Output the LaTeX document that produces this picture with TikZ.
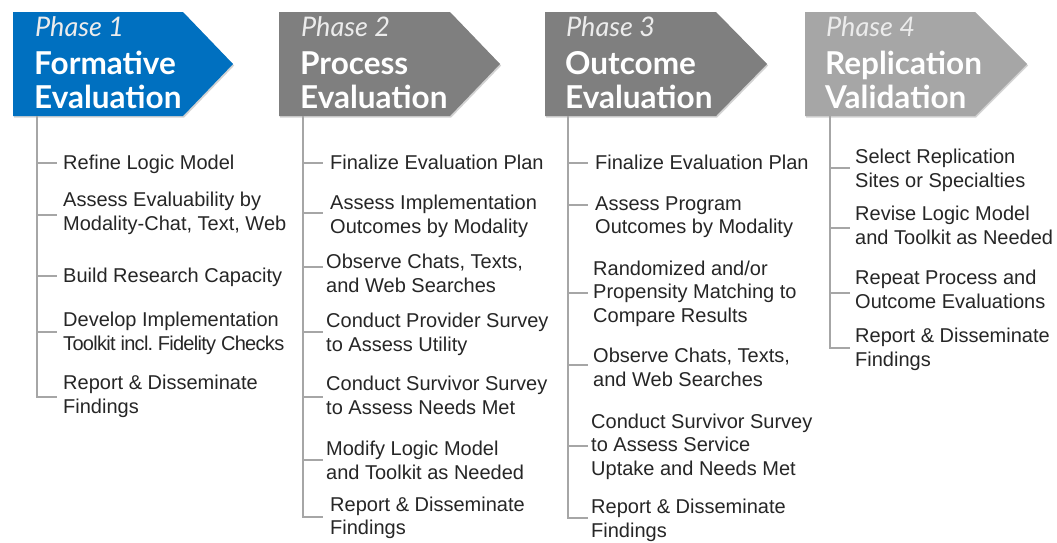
\documentclass[tikz,border=0pt]{standalone}
\usepackage{fontspec}
\setmainfont{Liberation Sans}
\newfontfamily\latofont{Lato}
\newfontfamily\tightfont[LetterSpace=-3.5]{Liberation Sans}
\usetikzlibrary{shadows,calc}
\definecolor{pblue}{HTML}{0070C0}
\definecolor{pgray}{HTML}{7F7F7F}
\definecolor{plight}{HTML}{A6A6A6}
\definecolor{spinec}{HTML}{A6A6A6}
\definecolor{itemc}{HTML}{262626}
\definecolor{labc}{HTML}{ECECEC}
\tikzset{
  phasebox/.style={draw=none, drop shadow={shadow xshift=1.2pt, shadow yshift=-1.5pt, opacity=0.35}},
  phaselab/.style={anchor=base west, inner sep=0pt, text=labc, font=\latofont\itshape\fontsize{27}{30}\selectfont},
  phasetitle/.style={anchor=west, inner sep=0pt, text=white, align=left, font=\latofont\bfseries\fontsize{31.5}{33}\selectfont},
  item/.style={anchor=west, inner sep=0pt, text=itemc, align=left, font=\fontsize{20}{23.5}\selectfont},
  spine/.style={draw=spinec, line width=1.4pt},
  tickline/.style={draw=spinec, line width=1.4pt}
}
\newcommand\phasebox[4]{\fill[#4, phasebox] (#1,12) -- (#2,12) -- (#3,64) -- (#2,116) -- (#1,116) -- cycle;}
\newcommand\tick[3]{\draw[tickline] ($(#1 |- #2.west)+(0,#3)$) -- ++(20,0);}
\newcommand\lastl[3]{\draw[spine] (#1) -- ($(#1 |- #2.west)+(0,#3)$) -- ++(20,0);}
\begin{document}
\begin{tikzpicture}[x=1pt,y=-1pt]
\useasboundingbox[fill=white] (0,0) rectangle (1057,542);

% phase boxes
\phasebox{13}{183}{233}{pblue}
\phasebox{279}{450}{500}{pgray}
\phasebox{545}{716}{767}{pgray}
\phasebox{805}{975}{1027}{plight}

\node[phaselab] (l1) at (35,36) {Phase 1};
\node[phaselab] (l2) at (301,36) {Phase 2};
\node[phaselab] (l3) at (566,36) {Phase 3};
\node[phaselab] (l4) at (826,36) {Phase 4};

\node[phasetitle] (t1) at (34,84.9) {\strut Formative\\\strut Evaluation};
\node[phasetitle] (t2) at (300,84.9) {\strut Process\\\strut Evaluation};
\node[phasetitle] (t3) at (565,84.9) {\strut Outcome\\\strut Evaluation};
\node[phasetitle] (t4) at (825,84.9) {\strut Replication\\\strut Validation};

\coordinate (v1) at (37,116);
\coordinate (v2) at (303,116);
\coordinate (v3) at (568,116);
\coordinate (v4) at (830,116);

% Phase 1 items
\node[item] (a1) at (63,165) {\strut Refine Logic Model};
\node[item] (a2) at (63,214) {\strut Assess Evaluability by\\\strut Modality-Chat, Text, Web};
\node[item] (a3) at (63,277.5) {\strut Build Research Capacity};
\node[item] (a4) at (63,334) {\strut Develop Implementation\\\strut {\tightfont Toolkit incl.\hspace{-2pt} Fidelity Checks}};
\node[item] (a5) at (63,397) {\strut Report \& Disseminate\\\strut Findings};

% Phase 2 items
\node[item] (b1) at (330,165) {\strut Finalize Evaluation Plan};
\node[item] (b2) at (330,217) {\strut Assess Implementation\\\strut Outcomes by Modality};
\node[item] (b3) at (326,276) {\strut Observe Chats, Texts,\\\strut and Web Searches};
\node[item] (b4) at (326,335) {\strut Conduct Provider Survey\\\strut to Assess Utility};
\node[item] (b5) at (326,398) {\strut Conduct Survivor Survey\\\strut to Assess Needs Met};
\node[item] (b6) at (326,463) {\strut Modify Logic Model\\\strut and Toolkit as Needed};
\node[item] (b7) at (330,518.5) {\strut Report \& Disseminate\\\strut Findings};

% Phase 3 items
\node[item] (c1) at (595,165) {\strut Finalize Evaluation Plan};
\node[item] (c2) at (595,217.5) {\strut Assess Program\\\strut Outcomes by Modality};
\node[item] (c3) at (593,294) {\strut Randomized and/or\\\strut Propensity Matching to\\\strut Compare Results};
\node[item] (c4) at (593,370) {\strut Observe Chats, Texts,\\\strut and Web Searches};
\node[item] (c5) at (591,447) {\strut Conduct Survivor Survey\\\strut to Assess Service\\\strut Uptake and Needs Met};
\node[item] (c6) at (591,521) {\strut Report \& Disseminate\\\strut Findings};

% Phase 4 items
\node[item] (d1) at (855,171) {\strut Select Replication\\\strut Sites or Specialties};
\node[item] (d2) at (855,228) {\strut Revise Logic Model\\\strut and Toolkit as Needed};
\node[item] (d3) at (855,292) {\strut Repeat Process and\\\strut Outcome Evaluations};
\node[item] (d4) at (855,350) {\strut Report \& Disseminate\\\strut Findings};

% spines and ticks
\lastl{v1}{a5}{0}
\tick{v1}{a1}{-2}
\tick{v1}{a2}{1}
\tick{v1}{a3}{-1.5}
\tick{v1}{a4}{-2}

\lastl{v2}{b7}{-1.5}
\tick{v2}{b1}{-2}
\tick{v2}{b2}{-4}
\tick{v2}{b3}{-9}
\tick{v2}{b4}{-3}
\tick{v2}{b5}{-1}
\tick{v2}{b6}{-3}

\lastl{v3}{c6}{-3}
\tick{v3}{c1}{-2}
\tick{v3}{c2}{-12.5}
\tick{v3}{c3}{-1}
\tick{v3}{c4}{-5}
\tick{v3}{c5}{-1}

\lastl{v4}{d4}{-2}
\tick{v4}{d1}{-3}
\tick{v4}{d2}{0}
\tick{v4}{d3}{1}
\end{tikzpicture}
\end{document}
